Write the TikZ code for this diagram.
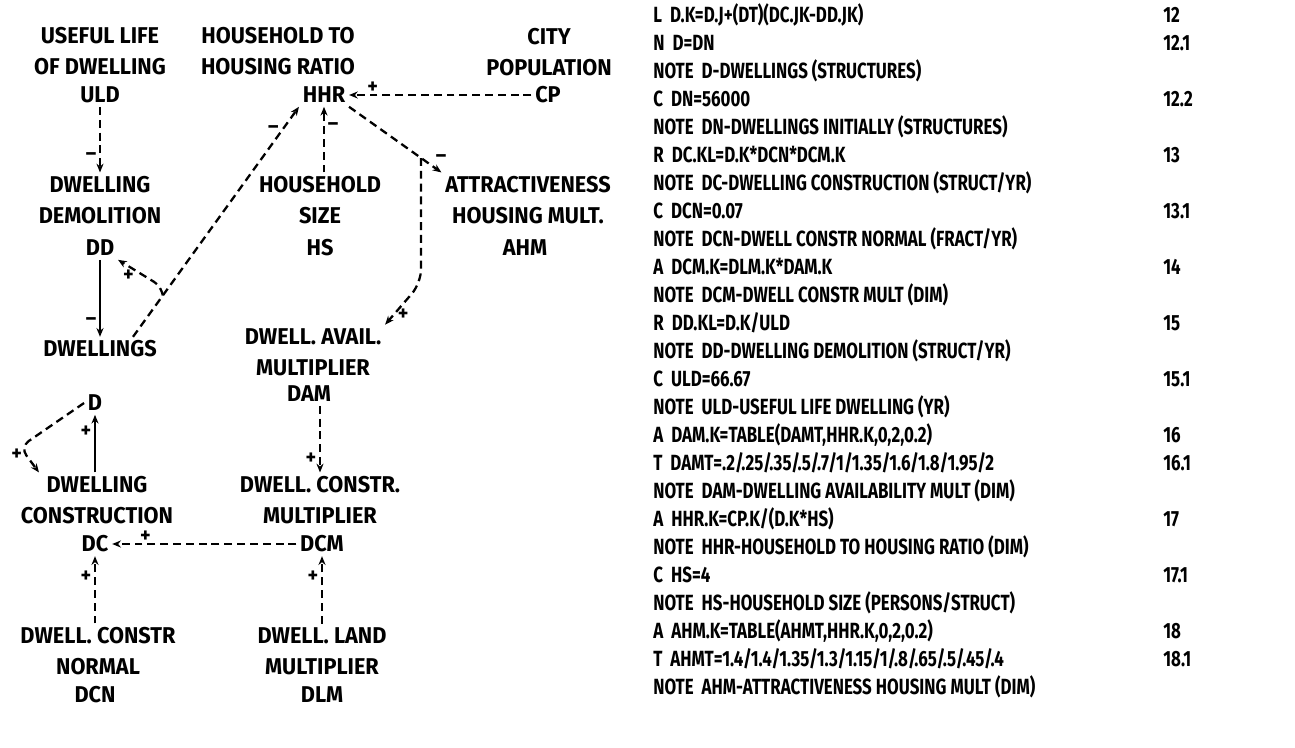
\documentclass[tikz,border=0pt]{standalone}
\usepackage{fontspec}
\setmainfont{Fira Sans}
\newfontfamily\lblfont{Fira Sans}[FakeStretch=0.95]
\newfontfamily\eqfont{Fira Sans}[FakeStretch=0.77]
\usetikzlibrary{arrows.meta,calc,positioning}

\begin{document}
\begin{tikzpicture}[
    x=0.2mm, y=-0.2mm,
    lbl/.style={font=\lblfont\bfseries\fontsize{13}{17.5}\selectfont, align=center, inner sep=2pt},
    sgn/.style={font=\lblfont\bfseries\fontsize{12}{12}\selectfont, inner sep=1.5pt},
    eqn/.style={font=\eqfont\bfseries\fontsize{12.5}{14}\selectfont, anchor=base west, inner sep=0pt},
    num/.style={eqn},
    link/.style={-{Stealth[length=5pt,width=4pt]}, line width=1.3pt, dash pattern=on 4.5pt off 2.8pt},
    flow/.style={-{Stealth[length=5pt,width=4pt]}, line width=1.3pt}
]
\useasboundingbox (0,0) rectangle (1295,747);

% Causal diagram
\node[lbl] (uldT) at (100,51) {USEFUL LIFE\\OF DWELLING};
\node[lbl] (uld) at (100,95) {ULD};
\node[lbl] (hhrT) at (278,51) {HOUSEHOLD TO\\HOUSING RATIO};
\node[lbl] (hhr) at (324,95) {HHR};
\node[lbl] (cpT) at (549,52) {CITY\\POPULATION};
\node[lbl] (cp) at (548,95) {CP};
\node[lbl] (hsT) at (320,200) {HOUSEHOLD\\SIZE};
\node[lbl] (hs) at (320,248) {HS};
\node[lbl] (ahmT) at (528,200) {ATTRACTIVENESS\\HOUSING MULT.};
\node[lbl] (ahm) at (525,248) {AHM};
\node[lbl] (ddT) at (100,200) {DWELLING\\DEMOLITION};
\node[lbl] (dd) at (100,248) {DD};
\node[lbl] (dw) at (100,349) {DWELLINGS};
\node[lbl] (damT) at (313,352) {DWELL. AVAIL.\\MULTIPLIER};
\node[lbl] (dam) at (309,394) {DAM};
\node[lbl] (d) at (95,403) {D};
\node[lbl] (dcT) at (97,500) {DWELLING\\CONSTRUCTION};
\node[lbl] (dc) at (95,544) {DC};
\node[lbl] (dcmT) at (320,500) {DWELL. CONSTR.\\MULTIPLIER};
\node[lbl] (dcm) at (322,544) {DCM};
\node[lbl] (dcnT) at (98,651) {DWELL. CONSTR\\NORMAL};
\node[lbl] (dcn) at (95,695) {DCN};
\node[lbl] (dlmT) at (322,651) {DWELL. LAND\\MULTIPLIER};
\node[lbl] (dlm) at (322,695) {DLM};

% Links
\draw[link] (uld) -- node[sgn,left,pos=.75] (m1) {\textendash} (ddT);
\draw[flow] (dd) -- node[sgn,left,pos=.8] (m2) {\textendash} (dw);
\draw[link] ($(dw.north)+(33,0)$) -- coordinate[pos=.18] (j1) node[sgn,left,pos=.9] (m3) {\textendash} (hhr.south west);
\draw[link, rounded corners=4pt] (j1) -- ++(-3,-10) -- node[sgn,below,pos=.75] (m4) {+} (dd.south east);
\draw[link] (hsT.north -| hhr) -- node[sgn,right,pos=.7] (m5) {\textendash} (hhr.south);
\draw[link] (cp) -- node[sgn,above,pos=.87,inner sep=0pt] (m6) {+} (hhr);
\draw[link] (hhr.south east) -- coordinate[pos=.78] (j2) node[sgn,above right,pos=.9] (m7) {\textendash} (ahmT.north west);
\draw[link, rounded corners=8pt] (j2) -- ++(0,125) -- node[sgn,right,pos=.75] (m8) {+} (damT.north east);
\draw[link] (dam.south -| dcmT.north) -- node[sgn,left,pos=.8] (m9) {+} (dcmT.north);
\draw[link] (dcm) -- node[sgn,above,pos=.82,inner sep=0pt] (m10) {+} (dc);
\draw[link] (dcnT.north -| dc) -- node[sgn,left,pos=.7] (m11) {+} (dc);
\draw[link] (dlmT.north -| dcm) -- node[sgn,left,pos=.7] (m12) {+} (dcm);
\draw[flow] (dcT.north -| d) -- node[sgn,left,pos=.7] (m13) {+} (d.south);
\draw[link, rounded corners=6pt] (d.west) -- ++(-64,44) -- node[sgn,left,pos=.3] (m14) {+} ($(dcT.north)+(-58,0)$);

% DYNAMO equations
\node[eqn] (e1) at (653,22) {L\ \ D.K=D.J+(DT)(DC.JK-DD.JK)};
\node[eqn] (e2) at (653,50) {N\ \ D=DN};
\node[eqn] (e3) at (653,78) {NOTE\ \ D-DWELLINGS (STRUCTURES)};
\node[eqn] (e4) at (653,106) {C\ \ DN=56000};
\node[eqn] (e5) at (653,134) {NOTE\ \ DN-DWELLINGS INITIALLY (STRUCTURES)};
\node[eqn] (e6) at (653,162) {R\ \ DC.KL=D.K*DCN*DCM.K};
\node[eqn] (e7) at (653,190) {NOTE\ \ DC-DWELLING CONSTRUCTION (STRUCT/YR)};
\node[eqn] (e8) at (653,218) {C\ \ DCN=0.07};
\node[eqn] (e9) at (653,246) {NOTE\ \ DCN-DWELL CONSTR NORMAL (FRACT/YR)};
\node[eqn] (e10) at (653,274) {A\ \ DCM.K=DLM.K*DAM.K};
\node[eqn] (e11) at (653,302) {NOTE\ \ DCM-DWELL CONSTR MULT (DIM)};
\node[eqn] (e12) at (653,330) {R\ \ DD.KL=D.K/ULD};
\node[eqn] (e13) at (653,358) {NOTE\ \ DD-DWELLING DEMOLITION (STRUCT/YR)};
\node[eqn] (e14) at (653,386) {C\ \ ULD=66.67};
\node[eqn] (e15) at (653,414) {NOTE\ \ ULD-USEFUL LIFE DWELLING (YR)};
\node[eqn] (e16) at (653,442) {A\ \ DAM.K=TABLE(DAMT,HHR.K,0,2,0.2)};
\node[eqn] (e17) at (653,470) {T\ \ DAMT=.2/.25/.35/.5/.7/1/1.35/1.6/1.8/1.95/2};
\node[eqn] (e18) at (653,498) {NOTE\ \ DAM-DWELLING AVAILABILITY MULT (DIM)};
\node[eqn] (e19) at (653,526) {A\ \ HHR.K=CP.K/(D.K*HS)};
\node[eqn] (e20) at (653,554) {NOTE\ \ HHR-HOUSEHOLD TO HOUSING RATIO (DIM)};
\node[eqn] (e21) at (653,582) {C\ \ HS=4};
\node[eqn] (e22) at (653,610) {NOTE\ \ HS-HOUSEHOLD SIZE (PERSONS/STRUCT)};
\node[eqn] (e23) at (653,638) {A\ \ AHM.K=TABLE(AHMT,HHR.K,0,2,0.2)};
\node[eqn] (e24) at (653,666) {T\ \ AHMT=1.4/1.4/1.35/1.3/1.15/1/.8/.65/.5/.45/.4};
\node[eqn] (e25) at (653,694) {NOTE\ \ AHM-ATTRACTIVENESS HOUSING MULT (DIM)};

% Equation numbers
\node[num] (n1) at (1163,22) {12};
\node[num] (n2) at (1163,50) {12.1};
\node[num] (n4) at (1163,106) {12.2};
\node[num] (n6) at (1163,162) {13};
\node[num] (n8) at (1163,218) {13.1};
\node[num] (n10) at (1163,274) {14};
\node[num] (n12) at (1163,330) {15};
\node[num] (n14) at (1163,386) {15.1};
\node[num] (n16) at (1163,442) {16};
\node[num] (n17) at (1163,470) {16.1};
\node[num] (n19) at (1163,526) {17};
\node[num] (n21) at (1163,582) {17.1};
\node[num] (n23) at (1163,638) {18};
\node[num] (n24) at (1163,666) {18.1};

\end{tikzpicture}
\end{document}
